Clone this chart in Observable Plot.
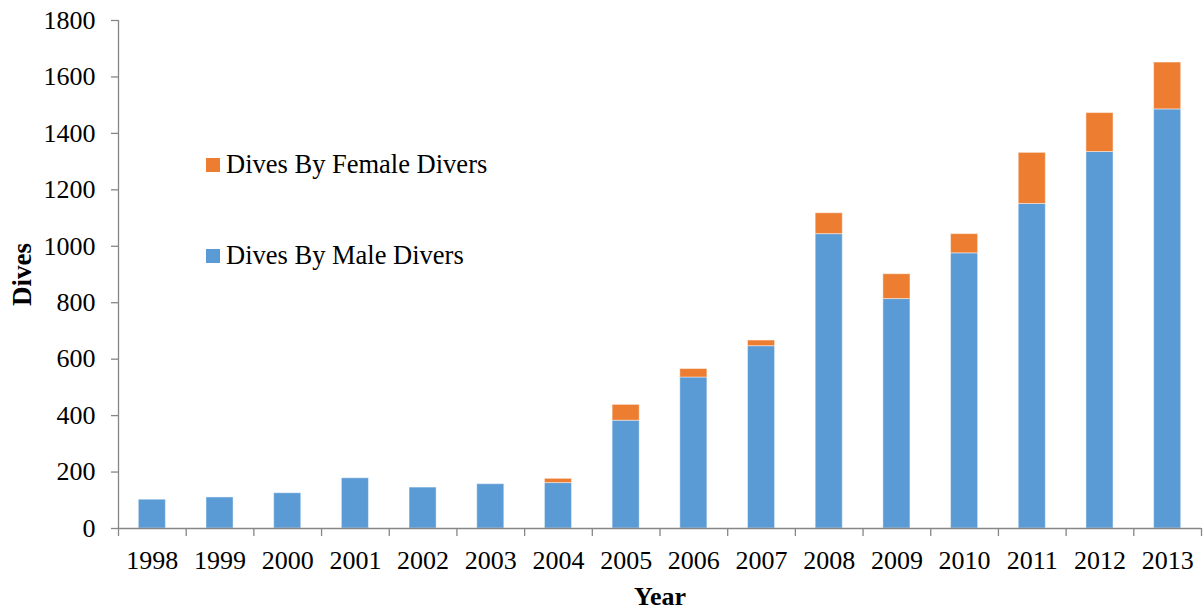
<!DOCTYPE html>
<html>
<head>
<meta charset="utf-8">
<script src="https://cdn.jsdelivr.net/npm/d3@7"></script>
<script src="https://cdn.jsdelivr.net/npm/@observablehq/plot@0.6"></script>
<style>
  body { margin: 0; background: #fff; }
  #chart { position: relative; width: 1204px; height: 611px; }
  .legend { position: absolute; font-family: "Liberation Serif", serif; font-size: 26.5px; color: #000; white-space: nowrap; line-height: 1; }
  .sw { position: absolute; width: 14px; height: 14px; }
</style>
</head>
<body>
<div id="chart"></div>
<script>
// ---- data ----
const years = ["1998","1999","2000","2001","2002","2003","2004","2005","2006","2007","2008","2009","2010","2011","2012","2013"];
const maleDives   = [102, 110, 125, 178, 145, 157, 161, 382, 535, 646, 1043, 813, 975, 1150, 1334, 1485];
const femaleDives = [0,   0,   0,   0,   0,   0,   15,  56,  30,  20,  74,   88,  68,  181,  138,  166];
const seriesNames = ["Dives By Female Divers", "Dives By Male Divers"];
const seriesColors = ["#ED7D31", "#5B9BD5"];
const yTicks = [0, 200, 400, 600, 800, 1000, 1200, 1400, 1600, 1800];
const xTitle = "Year";
const yTitle = "Dives";

// ---- layout ----
const W = 1204, H = 611, ML = 118, MR = 3, MT = 20, MB = 83;
const step = (W - ML - MR) / years.length;
const axisGray = "#868686";
const font = '"Liberation Serif", serif';

const rows = [];
years.forEach((yr, i) => {
  rows.push({year: yr, series: seriesNames[1], value: maleDives[i]});
  if (femaleDives[i] > 0) rows.push({year: yr, series: seriesNames[0], value: femaleDives[i]});
});

const plot = Plot.plot({
  width: W, height: H,
  marginLeft: ML, marginRight: MR, marginTop: MT, marginBottom: MB,
  style: {fontFamily: font, fontSize: "26px", color: "#000", background: "#fff"},
  x: {type: "band", domain: years, paddingInner: 0.6, paddingOuter: 0.3, round: false},
  y: {domain: [yTicks[0], yTicks[yTicks.length - 1]]},
  color: {domain: seriesNames, range: seriesColors},
  marks: [
    Plot.barY(rows, {x: "year", y: "value", fill: "series", stroke: "#fff", strokeOpacity: 0.45, strokeWidth: 1}),
    Plot.ruleY([yTicks[0]], {stroke: axisGray, strokeWidth: 1.3}),
    Plot.ruleX([years[0]], {x: d => d, y1: yTicks[0], y2: yTicks[yTicks.length - 1], dx: -step / 2, stroke: axisGray, strokeWidth: 1.3}),
    Plot.axisY(yTicks, {tickSize: 7, tickPadding: 16, stroke: axisGray, strokeWidth: 1.3, label: null, tickFormat: d => String(d)}),
    Plot.axisX({tickSize: 8, dx: -step / 2, text: null, label: null, stroke: axisGray, strokeWidth: 1.3}),
    Plot.axisX([years[years.length - 1]], {tickSize: 8, dx: step / 2, text: null, label: null, stroke: axisGray, strokeWidth: 1.3}),
    Plot.axisX({tickSize: 0, tickPadding: 22, label: null}),
    Plot.text([xTitle], {frameAnchor: "bottom", dy: 68.5, textAnchor: "middle", lineAnchor: "middle", fontWeight: "bold", fontSize: 26, fill: "#000"}),
    Plot.text([yTitle], {frameAnchor: "left", dx: -96, rotate: -90, textAnchor: "middle", lineAnchor: "middle", fontWeight: "bold", fontSize: 27, fill: "#000"})
  ]
});
const chart = document.getElementById("chart");
chart.appendChild(plot);

// legend (inside the plot area, top-left)
const legendItems = [
  {name: seriesNames[0], color: seriesColors[0], top: 151},
  {name: seriesNames[1], color: seriesColors[1], top: 242}
];
legendItems.forEach(it => {
  const sw = document.createElement("div");
  sw.className = "sw";
  sw.style.left = "206px";
  sw.style.top = (it.top + 7) + "px";
  sw.style.background = it.color;
  chart.appendChild(sw);
  const t = document.createElement("div");
  t.className = "legend";
  t.style.left = "226px";
  t.style.top = it.top + "px";
  t.textContent = it.name;
  chart.appendChild(t);
});
</script>
</body>
</html>
